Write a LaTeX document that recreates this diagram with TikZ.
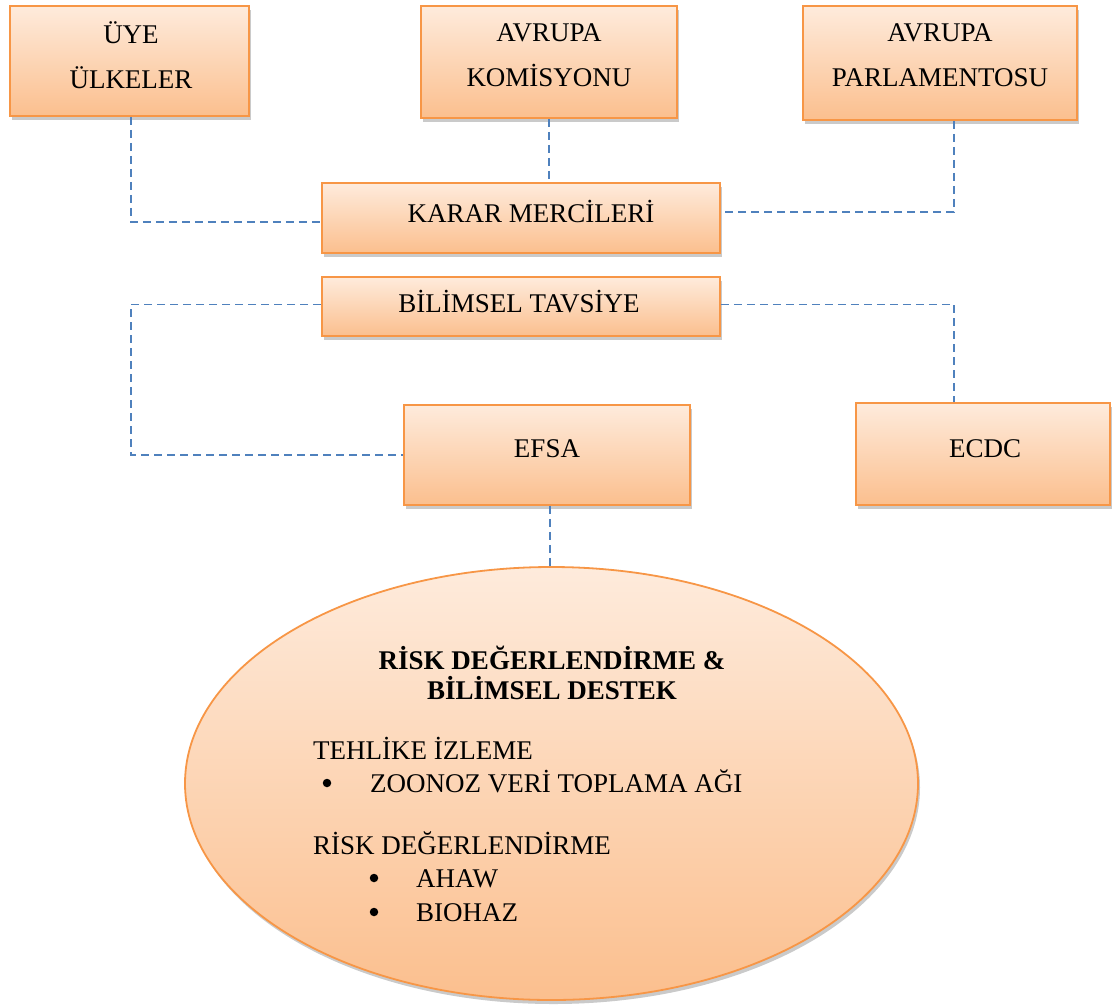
\documentclass[tikz,border=0pt]{standalone}
\usepackage{fontspec}
\setmainfont{Liberation Serif}
\usetikzlibrary{shadows,shapes.geometric,calc}
\definecolor{boxedge}{RGB}{247,150,70}
\definecolor{boxtop}{RGB}{254,235,220}
\definecolor{boxbot}{RGB}{251,191,142}
\definecolor{linkblue}{RGB}{79,129,189}
\begin{document}
\begin{tikzpicture}[x=1pt,y=-1pt,
  orgbox/.style={draw=boxedge, line width=1.8pt, top color=boxtop, bottom color=boxbot,
    drop shadow={shadow xshift=2pt,shadow yshift=-4pt,opacity=0.35,fill=black!60},
    inner sep=0pt},
  boxtext/.style={inner sep=0pt, font=\fontsize{27}{45}\selectfont, align=center},
  link/.style={draw=linkblue, line width=1.8pt, dash pattern=on 8pt off 5pt},
  etext/.style={inner sep=0pt, font=\fontsize{27}{33}\selectfont},
  ebold/.style={inner sep=0pt, font=\fontsize{27}{33}\selectfont\bfseries},
  dot/.style={circle, fill=black, inner sep=0pt, minimum size=8.5pt}]
\useasboundingbox (0,0) rectangle (1113,1007);
\node[orgbox, minimum width=239pt, minimum height=110pt] (uye) at (129.5,61) {};
\node[orgbox, minimum width=256pt, minimum height=112pt] (kom) at (549,62) {};
\node[orgbox, minimum width=274pt, minimum height=114pt] (parl) at (940,63) {};
\node[orgbox, minimum width=398pt, minimum height=70pt] (karar) at (521,218) {};
\node[orgbox, minimum width=398pt, minimum height=59pt] (bilim) at (521,306.5) {};
\node[orgbox, minimum width=286pt, minimum height=100pt] (efsa) at (547,455) {};
\node[orgbox, minimum width=254pt, minimum height=102pt] (ecdc) at (983,454) {};
\node[orgbox, ellipse, minimum width=733pt, minimum height=433pt] (risk) at (551.5,783.5) {};
\node[boxtext] (uyet) at (131,55) {ÜYE\\ÜLKELER};
\node[boxtext] (komt) at (549,55) {AVRUPA\\KOMİSYONU};
\node[boxtext] (parlt) at (940,55) {AVRUPA\\PARLAMENTOSU};
\node[boxtext] (karart) at (531,211) {KARAR MERCİLERİ};
\node[boxtext] (bilimt) at (519,302) {BİLİMSEL TAVSİYE};
\node[boxtext] (efsat) at (547,449) {EFSA};
\node[boxtext] (ecdct) at (985,449) {ECDC};
\coordinate (rx) at (954,0);
\coordinate (lx) at (131,0);
\draw[link] (lx |- uye.south) |- ($(karar.west)+(0,4)$);
\draw[link] (kom.south) -- (kom.south |- karar.north);
\draw[link] (rx |- parl.south) |- ($(karar.east)+(0,-6)$);
\draw[link] ($(bilim.west)+(0,-2)$) -| (lx |- efsa.west) -- (efsa.west);
\draw[link] ($(bilim.east)+(0,-2)$) -| (rx |- ecdc.north);
\draw[link] ($(efsa.south)+(3,0)$) -- ($(efsa.south |- risk.north)+(3,0)$);
\node[ebold, anchor=base] (t1) at (552,669) {RİSK DEĞERLENDİRME \&};
\node[ebold, anchor=base] (t2) at (552,699) {BİLİMSEL DESTEK};
\node[etext, anchor=base west] (h1) at (313,759) {TEHLİKE İZLEME};
\node[dot] (b1) at (327,783) {};
\node[etext, anchor=base west] (i1) at (370,792) {ZOONOZ VERİ TOPLAMA AĞI};
\node[etext, anchor=base west] (h2) at (313,854) {RİSK DEĞERLENDİRME};
\node[dot] (b2) at (374,878) {};
\node[etext, anchor=base west] (i2) at (416,887) {AHAW};
\node[dot] (b3) at (374,912) {};
\node[etext, anchor=base west] (i3) at (416,921) {BIOHAZ};
\end{tikzpicture}
\end{document}
